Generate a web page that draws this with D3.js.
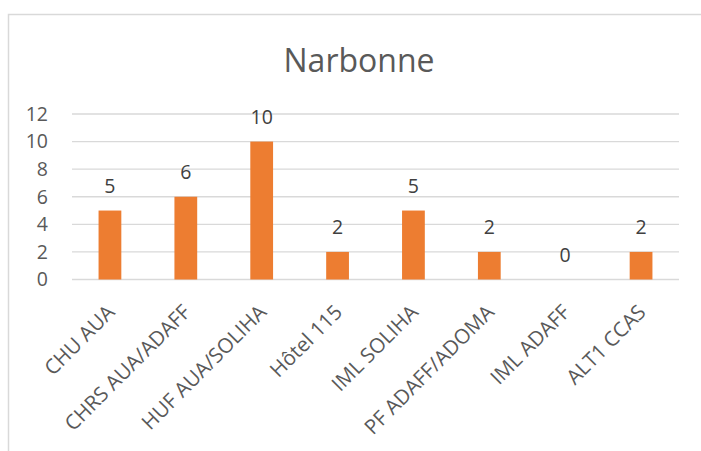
<!DOCTYPE html>
<html>
<head>
<meta charset="utf-8">
<script src="https://cdn.jsdelivr.net/npm/d3@7"></script>
<style>
  html, body { margin: 0; padding: 0; background: #fff; }
  svg { display: block; }
  text { font-family: "Open Sans", "Noto Sans", sans-serif; }
</style>
</head>
<body>
<div id="chart"></div>
<script>
const title = "Narbonne";
const categories = ["CHU AUA", "CHRS AUA/ADAFF", "HUF AUA/SOLIHA", "Hôtel 115", "IML SOLIHA", "PF ADAFF/ADOMA", "IML ADAFF", "ALT1 CCAS"];
const values = [5, 6, 10, 2, 5, 2, 0, 2];
const yTicks = [0, 2, 4, 6, 8, 10, 12];

(function () {
const W = 701, H = 451;
const svg = d3.select("#chart").append("svg").attr("width", W).attr("height", H);

// chart area border
svg.append("rect")
  .attr("x", 8.5).attr("y", 14.5)
  .attr("width", 760).attr("height", 480)
  .attr("fill", "#fff").attr("stroke", "#d9d9d9").attr("stroke-width", 1.5);

const pLeft = 72, pRight = 679, pTop = 114, pBottom = 279.5;

const x = d3.scaleBand().domain(categories).range([pLeft, pRight])
  .paddingInner(0.7).paddingOuter(0.35);
const y = d3.scaleLinear().domain([0, 12]).range([pBottom, pTop]);

// gridlines
svg.append("g").selectAll("line").data(yTicks).join("line")
  .attr("x1", pLeft).attr("x2", pRight)
  .attr("y1", d => y(d)).attr("y2", d => y(d))
  .attr("stroke", "#d9d9d9").attr("stroke-width", 1.3);

// y axis labels
const yAxis = d3.axisLeft(y).tickValues(yTicks).tickSize(0).tickPadding(0);
const gy = svg.append("g").attr("transform", `translate(48,0)`).call(yAxis);
gy.select(".domain").remove();
gy.selectAll("text").attr("font-size", 19.5).attr("fill", "#595959")
  .attr("font-family", '"Open Sans", sans-serif');

// bars
svg.append("g").selectAll("rect").data(values).join("rect")
  .attr("x", (d, i) => x(categories[i]))
  .attr("width", x.bandwidth())
  .attr("y", d => y(d))
  .attr("height", d => y(0) - y(d))
  .attr("fill", "#ED7D31");

// data labels
svg.append("g").selectAll("text").data(values).join("text")
  .attr("x", (d, i) => x(categories[i]) + x.bandwidth() / 2)
  .attr("y", d => y(d) - 17.5)
  .attr("text-anchor", "middle")
  .attr("font-size", 19.5)
  .attr("fill", "#404040")
  .text(d => d);

// x axis labels
const xAxis = d3.axisBottom(x).tickSize(0).tickPadding(0);
const gx = svg.append("g").attr("transform", `translate(0,${pBottom})`).call(xAxis);
gx.select(".domain").remove();
gx.selectAll("text")
  .attr("font-size", 20.5).attr("fill", "#595959")
  .attr("font-family", '"Open Sans", sans-serif')
  .attr("text-anchor", "end")
  .attr("dy", null)
  .attr("y", 0)
  .attr("transform", "translate(6,34) rotate(-45)");

// title
svg.append("text")
  .attr("x", 359).attr("y", 71.5)
  .attr("text-anchor", "middle")
  .attr("font-size", 32)
  .attr("fill", "#595959")
  .text(title);
})();
</script>
</body>
</html>
